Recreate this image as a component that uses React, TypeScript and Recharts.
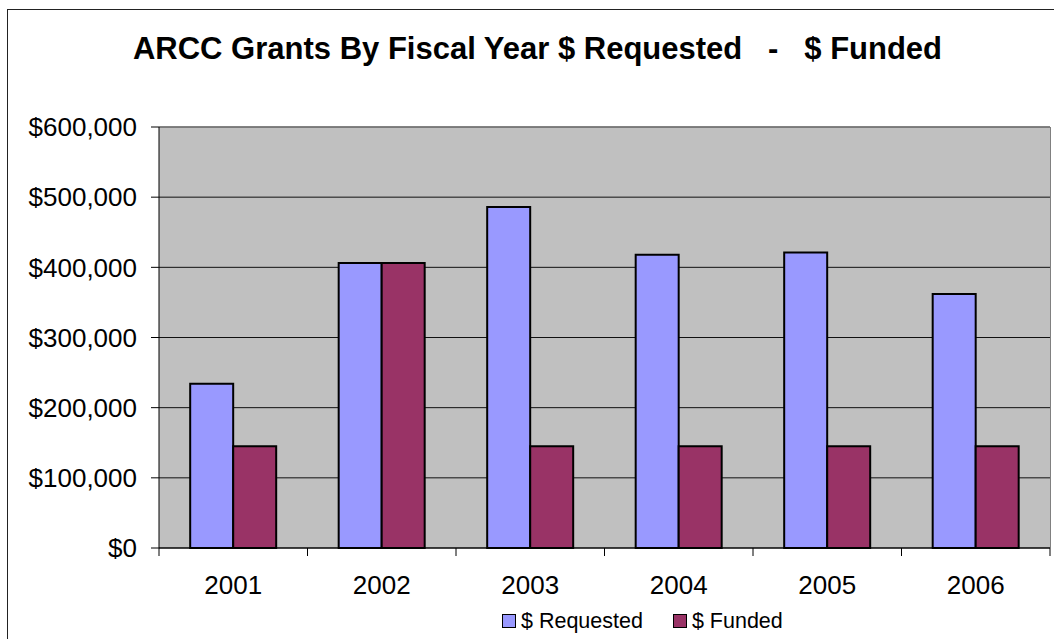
import React from "react";
import {
  BarChart,
  Bar,
  XAxis,
  YAxis,
  CartesianGrid,
  Legend,
  ReferenceLine,
} from "recharts";

const years = ["2001", "2002", "2003", "2004", "2005", "2006"];
const requested = [234000, 406000, 486000, 418000, 421000, 362000];
const funded = [145000, 406000, 145000, 145000, 145000, 145000];
const yTicks = [0, 100000, 200000, 300000, 400000, 500000, 600000];

const data = years.map((year, i) => ({
  year,
  requested: requested[i],
  funded: funded[i],
}));

const FONT = '"Liberation Sans", Arial, sans-serif';
const REQ_COLOR = "#9999FF";
const FUND_COLOR = "#993366";

const TICK_SIZE = 8;
const TICK_MARGIN = 20;

function formatMoney(v: number): string {
  return "$" + v.toLocaleString("en-US");
}

// category labels in the middle, tick marks on the band edges (Excel style)
const YearTick = (props: any) => {
  const { x, y, payload, index } = props;
  const half = payload && payload.offset ? payload.offset : 74.25;
  const top = y - TICK_MARGIN - TICK_SIZE;
  return (
    <g>
      <line x1={x - half} y1={top} x2={x - half} y2={top + TICK_SIZE} stroke="#000" />
      {index === years.length - 1 && (
        <line x1={x + half} y1={top} x2={x + half} y2={top + TICK_SIZE} stroke="#000" />
      )}
      <text
        x={x}
        y={y}
        dy="0.71em"
        textAnchor="middle"
        fill="#000"
        fontSize={26}
        fontFamily={FONT}
      >
        {payload.value}
      </text>
    </g>
  );
};

const LegendContent = () => {
  const items = [
    { label: "$ Requested", color: REQ_COLOR },
    { label: "$ Funded", color: FUND_COLOR },
  ];
  return (
    <div style={{ display: "flex", alignItems: "center", height: 30, fontFamily: FONT, fontSize: 21.5 }}>
      {items.map((it, i) => (
        <div key={it.label} style={{ display: "flex", alignItems: "center", marginRight: i === 0 ? 30 : 0 }}>
          <span
            style={{
              display: "inline-block",
              width: 12,
              height: 12,
              background: it.color,
              border: "1.5px solid #000",
              marginRight: 5,
            }}
          />
          <span style={{ color: "#000" }}>{it.label}</span>
        </div>
      ))}
    </div>
  );
};

export default function App() {
  return (
    <div
      style={{
        position: "absolute",
        left: 0,
        top: 0,
        width: 1054,
        height: 639,
        overflow: "hidden",
        background: "#fff",
        fontFamily: FONT,
      }}
    >
      <div
        style={{
          position: "absolute",
          left: 7,
          top: 9,
          width: 1200,
          height: 800,
          borderLeft: "1.5px solid #222",
          borderTop: "1.5px solid #222",
        }}
      />
      <div
        style={{
          position: "absolute",
          left: 537.5,
          top: 33,
          transform: "translateX(-50%)",
          fontSize: 31,
          lineHeight: "31px",
          fontWeight: "bold",
          whiteSpace: "pre",
          color: "#000",
        }}
      >
        {"ARCC Grants By Fiscal Year $ Requested   -   $ Funded"}
      </div>
      <div style={{ position: "absolute", left: 0, top: 0 }}>
        <BarChart
          width={1054}
          height={639}
          data={data}
          margin={{ top: 127, right: 4, left: 0, bottom: 11 }}
          barCategoryGap="21%"
          barGap={0}
        >
          <CartesianGrid vertical={false} stroke="#111" fill="#C0C0C0" fillOpacity={1} />
          <ReferenceLine y={600000} stroke="#808080" strokeWidth={1.5} />
          <XAxis
            dataKey="year"
            height={50}
            tickLine={false}
            tickSize={TICK_SIZE}
            tickMargin={TICK_MARGIN}
            axisLine={{ stroke: "#000" }}
            tick={<YearTick />}
            interval={0}
          />
          <YAxis
            width={159}
            domain={[0, 600000]}
            ticks={yTicks}
            tickFormatter={formatMoney}
            tickSize={8}
            tickMargin={14}
            tickLine={{ stroke: "#000" }}
            axisLine={{ stroke: "#000" }}
            tick={{ fill: "#000", fontSize: 26, fontFamily: FONT }}
          />
          <Legend
            verticalAlign="bottom"
            content={<LegendContent />}
            wrapperStyle={{ left: 502, top: 606, width: "auto", height: 30 }}
          />
          <Bar
            dataKey="requested"
            name="$ Requested"
            fill={REQ_COLOR}
            stroke="#000"
            strokeWidth={2}
            isAnimationActive={false}
          />
          <Bar
            dataKey="funded"
            name="$ Funded"
            fill={FUND_COLOR}
            stroke="#000"
            strokeWidth={2}
            isAnimationActive={false}
          />
        </BarChart>
      </div>
      <div
        style={{
          position: "absolute",
          left: 1050,
          top: 127,
          width: 0,
          height: 421,
          borderLeft: "1.5px solid #808080",
          pointerEvents: "none",
        }}
      />
    </div>
  );
}
